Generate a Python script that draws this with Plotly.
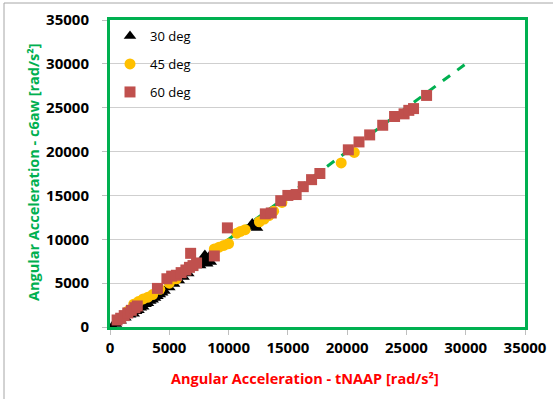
import plotly.graph_objects as go

# 30 deg (black triangles)
x30 = [200, 500, 900, 1300, 1700, 2000, 2200, 2400, 2600, 2800, 3000, 3200, 3400, 3600,
       3800, 4000, 4200, 4400, 4600, 5000, 5400, 5800, 6200, 6600, 7400, 7600, 7700, 7800,
       7900, 8000, 8100, 8200, 8300, 8400, 8500, 8700, 11800, 12000, 12200, 12400]
y30 = [100, 350, 700, 1050, 1400, 1500, 1800, 1900, 2200, 2300, 2600, 2700, 2950, 3100,
       3300, 3500, 3700, 3900, 4100, 4500, 4900, 5300, 5700, 6100, 7100, 7000, 7500, 7300,
       7800, 8200, 7900, 7200, 7600, 8100, 7400, 7900, 11400, 11800, 11600, 11300]

# 45 deg (orange circles)
x45 = [1500, 2000, 2400, 2800, 3200, 3600, 4200, 5000, 5600, 8800, 9200, 9600, 10000,
       10700, 11000, 11400, 12600, 13000, 13400, 13800, 14500, 19500, 20600]
y45 = [1800, 2600, 2900, 3200, 3400, 3700, 4300, 5000, 5500, 8900, 9100, 9300, 9500,
       10700, 10900, 11100, 12000, 12300, 12700, 13200, 14200, 18700, 19900]

# 60 deg (red squares)
x60 = [600, 900, 1200, 1500, 1800, 2100, 2300, 4000, 4800, 5200, 5600, 6000, 6400, 6700,
       7000, 7300, 6800, 8800, 9900, 13100, 13600, 14400, 15000, 15700, 16300, 17000, 17700,
       20100, 21000, 21900, 23000, 24000, 24800, 25200, 25600, 26700]
y60 = [800, 1000, 1300, 1600, 1900, 2200, 2400, 4400, 5500, 5800, 5900, 6200, 6500, 6800,
       7000, 7300, 8400, 8100, 11300, 12900, 13000, 14400, 15000, 15100, 16000, 16800, 17500,
       20200, 21100, 21900, 23000, 24000, 24300, 24700, 24900, 26400]

# y = x reference line
line_x = [0, 30000]
line_y = [0, 30000]

ticks = [0, 5000, 10000, 15000, 20000, 25000, 30000, 35000]
tick_text = [str(t) for t in ticks]

FONT = "Open Sans"

PL, PR, PT, PB = 110, 525, 20, 327
W, H = PR - PL, PB - PT

fig = go.Figure()
fig.add_trace(go.Scatter(x=line_x, y=line_y, mode="lines", showlegend=False,
                         line=dict(color="#00B050", width=3, dash="dash")))
fig.add_trace(go.Scatter(x=x30, y=y30, mode="markers", name="30 deg", legend="legend",
                         marker=dict(symbol="triangle-up", size=11, color="#000000")))
fig.add_trace(go.Scatter(x=x45, y=y45, mode="markers", name="45 deg", legend="legend2",
                         marker=dict(symbol="circle", size=11, color="#FFC000")))
fig.add_trace(go.Scatter(x=x60, y=y60, mode="markers", name="60 deg", legend="legend3",
                         marker=dict(symbol="square", size=11, color="#C0504D")))

axis_common = dict(range=[0, 35000], tickvals=ticks, ticktext=tick_text, showline=True,
                   linecolor="#00B050", linewidth=3, mirror=True, zeroline=False,
                   ticks="outside", ticklen=5, tickcolor="#BFBFBF", automargin=False,
                   tickfont=dict(family=FONT, size=15, color="#000000", weight="bold"))
fig.update_xaxes(**axis_common, showgrid=False)
fig.update_yaxes(**axis_common, showgrid=True, gridcolor="#CFCFCF", gridwidth=1,
                 ticklabelstandoff=10)

fig.add_annotation(text="Angular Acceleration - tNAAP [rad/s²]", xref="paper", yref="paper",
                   x=(305 - PL) / W, y=-(378 - PB) / H, xanchor="center", yanchor="middle",
                   showarrow=False,
                   font=dict(family=FONT, size=14.5, color="#FF0000", weight="bold"))
fig.add_annotation(text="Angular Acceleration - c6aw [rad/s²]", xref="paper", yref="paper",
                   x=(33 - PL) / W, y=(PB - 172) / H, xanchor="center", yanchor="middle",
                   showarrow=False, textangle=-90,
                   font=dict(family=FONT, size=14.5, color="#00B050", weight="bold"))

# outer chart frame (left and top visible)
xl = (4 - PL) / W
yt = (PB - 3) / H
fig.add_shape(type="line", xref="paper", yref="paper", x0=xl, x1=xl, y0=-0.3, y1=yt,
              line=dict(color="#A6A6A6", width=1))
fig.add_shape(type="line", xref="paper", yref="paper", x0=xl, x1=1.2, y0=yt, y1=yt,
              line=dict(color="#A6A6A6", width=1))


def leg(center_y):
    top = center_y - 14
    return dict(x=(110 - PL) / W, y=1 - (top - PT) / H, xanchor="left", yanchor="top",
                bgcolor="rgba(0,0,0,0)", itemwidth=30,
                font=dict(family=FONT, size=13, color="#000000"))


fig.update_layout(
    width=553, height=399,
    margin=dict(l=PL, r=553 - PR, t=PT, b=399 - PB, autoexpand=False),
    plot_bgcolor="white", paper_bgcolor="white",
    legend=leg(35), legend2=leg(63), legend3=leg(91),
)

fig.write_html("out.html", config={"displayModeBar": False},
               post_script="document.body.style.margin='0';document.body.style.overflow='hidden';")
